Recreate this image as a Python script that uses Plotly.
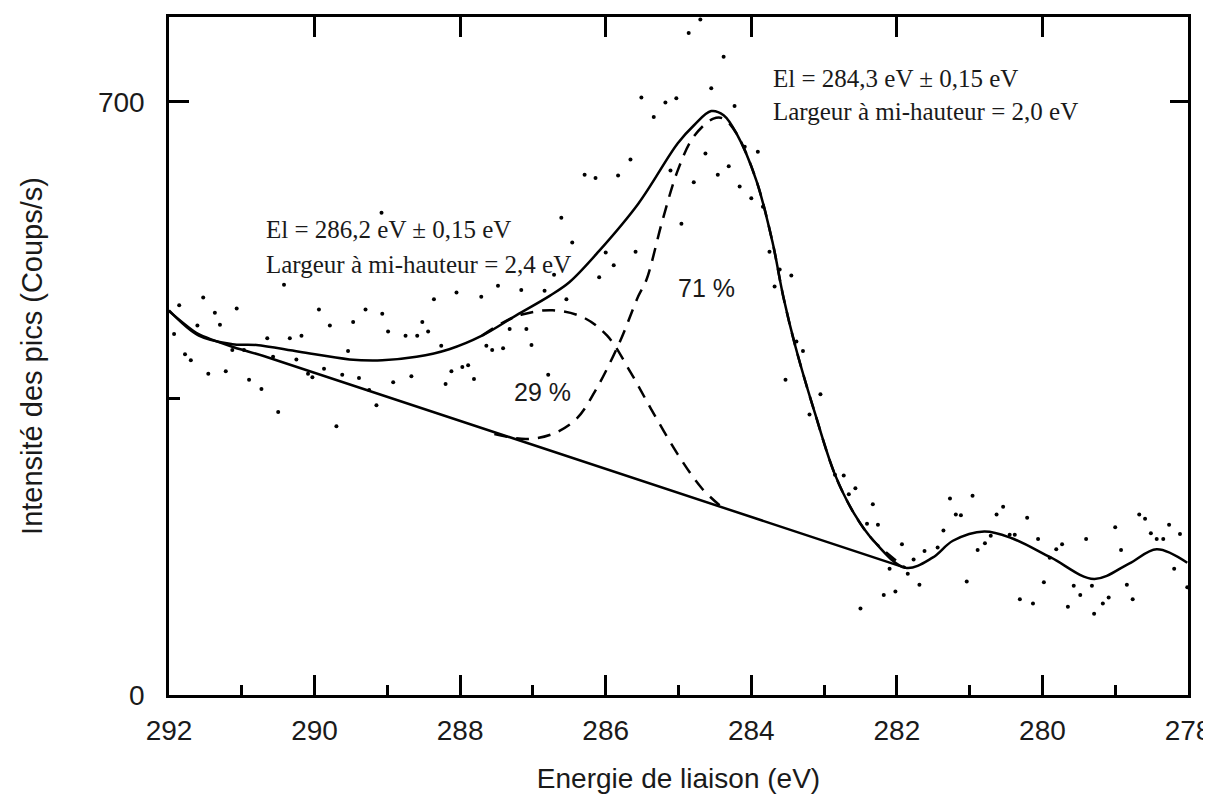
import plotly.graph_objects as go

# Measured points (binding energy in eV, intensity in counts/s)
DOT_E = [286.29, 286.14, 289.08, 286.61, 286.46, 290.42, 287.48, 286.71, 288.05, 287.71,
         287.16, 286.84, 286.54, 291.53, 288.36, 291.86, 291.07, 291.37, 289.94, 289.30,
         289.07, 291.61, 291.30, 291.93, 289.79, 289.47, 288.52, 288.44, 288.99, 288.75,
         288.59, 287.32, 287.09, 290.18, 290.34, 290.65, 291.78, 291.70, 291.13, 290.97,
         290.57, 289.54, 288.26, 287.64, 287.56, 287.41, 287.02, 291.46, 291.22, 290.90,
         290.73, 290.25, 290.09, 290.03, 289.87, 289.62, 289.39, 289.25, 289.15, 288.92,
         288.67, 288.12, 288.20, 287.97, 287.89, 287.81, 286.79, 290.50, 289.70,
         284.70, 284.86, 284.38, 284.55, 285.51, 285.18, 285.03, 284.23, 285.34, 284.09,
         283.91, 284.63, 285.66, 284.31, 285.11, 285.83, 284.46, 284.79, 284.16, 284.00,
         283.84, 284.96, 286.00, 285.59, 285.89, 286.09, 283.75, 283.61, 283.45, 283.68,
         283.38, 283.29, 283.53, 283.05, 283.20, 282.85, 282.73, 282.57, 282.66, 282.33,
         282.41, 282.26, 281.93, 282.10, 281.85, 281.69, 282.02, 282.18, 282.50, 281.77,
         281.62, 281.44, 281.36, 281.27, 281.19, 281.12, 280.96, 280.89, 281.04, 280.79,
         280.71, 280.63, 280.54, 280.45, 280.38, 280.21, 280.06, 279.98, 279.90, 279.81,
         279.73, 280.31, 280.13, 279.65, 279.57, 279.48, 279.40, 279.32, 279.17, 279.09,
         279.00, 278.92, 278.84, 278.76, 278.67, 278.59, 278.51, 278.43, 278.34, 278.26,
         278.19, 278.11, 278.01, 279.29]
DOT_I = [614, 610, 569, 563, 534, 484, 483, 496, 475, 470,
         478, 477, 467, 469, 467, 460, 456, 451, 455, 455,
         450, 436, 437, 426, 436, 440, 440, 429, 429, 424,
         424, 432, 432, 424, 421, 421, 402, 395, 407, 407,
         399, 406, 412, 412, 407, 409, 413, 379, 382, 372,
         361, 396, 379, 375, 385, 378, 374, 360, 342, 369,
         376, 382, 367, 387, 389, 373, 378, 334, 317,
         797, 781, 753, 716, 705, 699, 704, 695, 682, 647,
         641, 639, 632, 624, 619, 613, 614, 605, 600, 586,
         576, 556, 522, 523, 507, 493, 523, 502, 495, 482,
         417, 406, 372, 355, 331, 260, 259, 244, 237, 225,
         202, 201, 178, 149, 143, 130, 122, 118, 102, 160,
         170, 174, 194, 232, 213, 212, 235, 171, 134, 179,
         188, 213, 222, 189, 189, 209, 184, 133, 162, 172,
         178, 113, 108, 104, 129, 118, 184, 129, 108, 115,
         198, 171, 130, 113, 213, 208, 191, 184, 184, 201,
         149, 190, 127, 96]

# Fitted envelope (solid)
ENV_E = [292.00, 291.59, 291.13, 290.80, 290.21, 289.52, 289.07, 288.60, 288.15, 287.70,
         287.23, 286.77, 286.50, 286.09, 285.55, 285.01, 284.79, 284.55, 284.38, 284.20,
         283.93, 283.71, 283.56, 283.39, 283.12, 282.85, 282.58, 282.32, 281.88, 281.51,
         281.23, 280.80, 280.42, 279.88, 279.29, 278.81, 278.43, 278.01]
ENV_I = [454, 424, 414, 413, 405, 396, 395, 399, 408, 424,
         448, 471, 487, 524, 580, 651, 672, 689, 684, 662,
         607, 535, 470, 410, 331, 260, 213, 182, 150, 162,
         182, 193, 185, 162, 137, 155, 172, 156]

# Background (solid)
BG_E = [292.00, 291.60, 291.10, 290.70, 281.88]
BG_I = [453, 426, 410, 400, 150]

# Component at 286.2 eV (29 %)
C29_E = [287.70, 287.40, 287.15, 286.73, 286.32, 285.98, 285.66, 285.38, 285.01, 284.68, 284.41]
C29_I = [424, 440, 449, 454, 446, 424, 381, 338, 284, 244, 222]

# Component at 284.3 eV (71 %)
C71_E = [287.53, 287.09, 286.73, 286.40, 286.13, 285.81, 285.55, 285.44, 285.22, 285.01,
         284.79, 284.52, 284.38, 284.20, 283.93, 283.71, 283.56, 283.39, 283.12, 282.85,
         282.58, 282.32, 281.88]
C71_I = [308, 302, 308, 326, 361, 416, 471, 490, 560, 619,
         659, 680, 680, 662, 607, 535, 470, 410, 331, 260,
         213, 182, 150]

X_TICKS = [292, 290, 288, 286, 284, 282, 280, 278]
X_MINOR = [291, 289, 287, 285, 283, 281, 279]
Y_TICKS = [0, 700]

SANS = 'Arial, "Liberation Sans", sans-serif'
SERIF = '"Times New Roman", "Liberation Serif", serif'
INK = '#1a1a1a'

fig = go.Figure()

fig.add_trace(go.Scatter(x=DOT_E, y=DOT_I, mode='markers',
                         marker=dict(color='black', size=4), showlegend=False))
fig.add_trace(go.Scatter(x=BG_E, y=BG_I, mode='lines', line=dict(color='black', width=2.5, shape='spline', smoothing=0.6),
                         showlegend=False))
fig.add_trace(go.Scatter(x=C29_E, y=C29_I, mode='lines',
                         line=dict(color='black', width=2.5, dash='13px,9px', shape='spline'), showlegend=False))
fig.add_trace(go.Scatter(x=C71_E, y=C71_I, mode='lines',
                         line=dict(color='black', width=2.5, dash='13px,9px', shape='spline'), showlegend=False))
fig.add_trace(go.Scatter(x=ENV_E, y=ENV_I, mode='lines', line=dict(color='black', width=2.5, shape='spline'),
                         showlegend=False))
# empty trace so the mirrored top/right axes get drawn
fig.add_trace(go.Scatter(x=[], y=[], xaxis='x2', yaxis='y2', showlegend=False))

fig.add_annotation(x=290.69, y=549, text='El = 286,2 eV ± 0,15 eV', showarrow=False,
                   xanchor='left', yanchor='middle', font=dict(family=SERIF, size=25, color=INK))
fig.add_annotation(x=290.69, y=508, text='Largeur à mi-hauteur = 2,4 eV', showarrow=False,
                   xanchor='left', yanchor='middle', font=dict(family=SERIF, size=25, color=INK))
fig.add_annotation(x=283.73, y=728, text='El = 284,3 eV ± 0,15 eV', showarrow=False,
                   xanchor='left', yanchor='middle', font=dict(family=SERIF, size=25, color=INK))
fig.add_annotation(x=283.73, y=689, text='Largeur à mi-hauteur = 2,0 eV', showarrow=False,
                   xanchor='left', yanchor='middle', font=dict(family=SERIF, size=25, color=INK))
fig.add_annotation(x=286.87, y=358, text='29 %', showarrow=False,
                   font=dict(family=SANS, size=25, color=INK))
fig.add_annotation(x=284.62, y=480, text='71 %', showarrow=False,
                   font=dict(family=SANS, size=25, color=INK))

fig.update_layout(
    width=1211,
    height=795,
    margin=dict(l=161, r=31, t=6, b=108),
    plot_bgcolor='white',
    paper_bgcolor='white',
    showlegend=False,
    xaxis=dict(
        range=[292, 278],
        tickmode='array',
        tickvals=X_TICKS,
        ticks='inside',
        ticklen=20,
        tickwidth=2.5,
        tickcolor='black',
        minor=dict(tickvals=X_MINOR, ticks='inside', ticklen=10, tickwidth=2.5, tickcolor='black'),
        showline=True,
        linecolor='black',
        linewidth=2.5,
        mirror=True,
        showgrid=False,
        zeroline=False,
        tickfont=dict(family=SANS, size=28, color=INK),
        ticklabelstandoff=9,
        ticklabeloverflow='allow',
        title=dict(text='Energie de liaison (eV)', font=dict(family=SANS, size=28, color=INK), standoff=24),
    ),
    xaxis2=dict(
        overlaying='x',
        side='top',
        range=[292, 278],
        tickmode='array',
        tickvals=X_TICKS[1:-1],
        ticks='inside',
        ticklen=20,
        tickwidth=2.5,
        tickcolor='black',
        showticklabels=False,
        showline=False,
        showgrid=False,
        zeroline=False,
    ),
    yaxis=dict(
        range=[0, 800],
        tickmode='array',
        tickvals=Y_TICKS,
        ticks='inside',
        ticklen=20,
        tickwidth=2.5,
        tickcolor='black',
        minor=dict(tickvals=[350], ticks='inside', ticklen=11, tickwidth=2.5, tickcolor='black'),
        showline=True,
        linecolor='black',
        linewidth=2.5,
        mirror=True,
        showgrid=False,
        zeroline=False,
        tickfont=dict(family=SANS, size=28, color=INK),
        ticklabelstandoff=16,
        title=dict(text='Intensité des pics (Coups/s)', font=dict(family=SANS, size=29, color=INK), standoff=47),
    ),
    yaxis2=dict(
        overlaying='y',
        side='right',
        range=[0, 800],
        tickmode='array',
        tickvals=[700],
        ticks='inside',
        ticklen=18,
        tickwidth=2.5,
        tickcolor='black',
        showticklabels=False,
        showline=False,
        showgrid=False,
        zeroline=False,
    ),
)

fig.write_html("out.html")
